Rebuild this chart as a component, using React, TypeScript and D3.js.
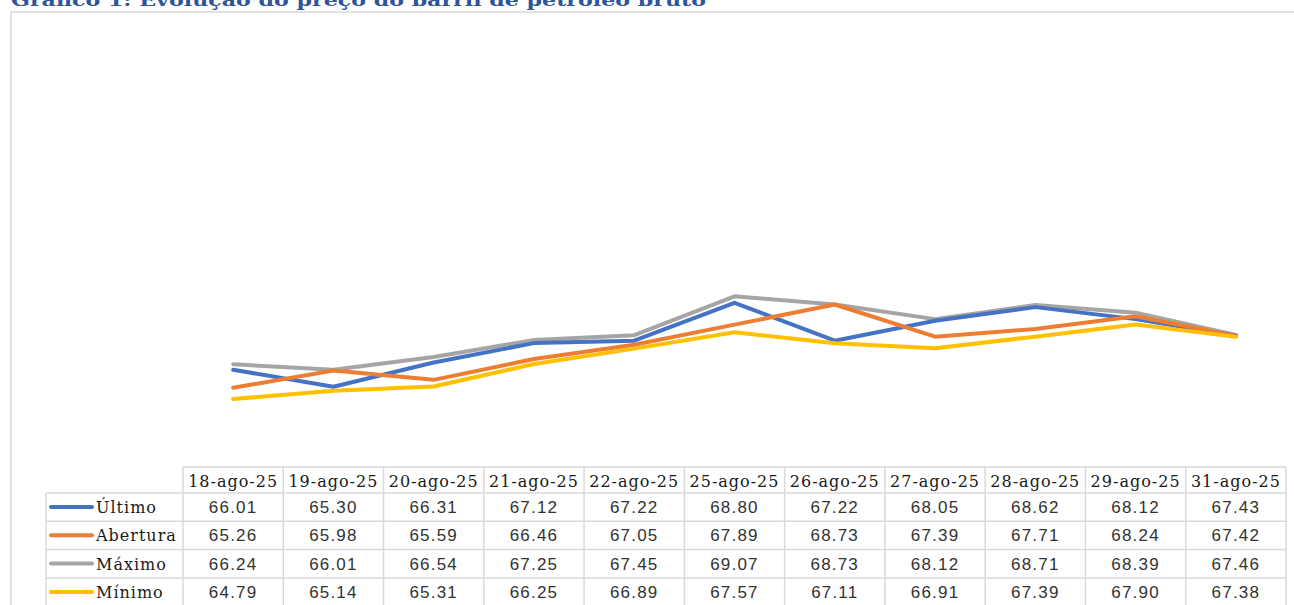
import React from "react";
import * as d3 from "d3";

const dates = ["18-ago-25","19-ago-25","20-ago-25","21-ago-25","22-ago-25","25-ago-25","26-ago-25","27-ago-25","28-ago-25","29-ago-25","31-ago-25"];
const ultimo = [66.01,65.30,66.31,67.12,67.22,68.80,67.22,68.05,68.62,68.12,67.43];
const abertura = [65.26,65.98,65.59,66.46,67.05,67.89,68.73,67.39,67.71,68.24,67.42];
const maximo = [66.24,66.01,66.54,67.25,67.45,69.07,68.73,68.12,68.71,68.39,67.46];
const minimo = [64.79,65.14,65.31,66.25,66.89,67.57,67.11,66.91,67.39,67.90,67.38];
const seriesNames = ["Último","Abertura","Máximo","Mínimo"];
const seriesColors = ["#4472C4","#ED7D31","#A5A5A5","#FFC000"];
const yDomain = [62, 80];
const title = "Gráfico 1: Evolução do preço do barril de petróleo bruto";

export default function App() {
  const W = 1294, H = 605;
  const tableLeft = 183, tableRight = 1286, legendLeft = 46;
  const headerTop = 467, headerH = 26, rowH = 28.3;
  const x = d3.scaleBand<string>().domain(dates).range([tableLeft, tableRight]);
  const y = d3.scaleLinear().domain(yDomain).range([466, 34]);
  const allSeries = [ultimo, abertura, maximo, minimo];
  const drawOrder = [2, 0, 1, 3];
  const line = d3.line<number>().x((_, i) => (x(dates[i]) as number) + x.bandwidth() / 2).y(d => y(d));
  const grid = "#D9D9D9";
  const rowsTop = headerTop + headerH;
  return (
    <svg width={W} height={H} style={{ position: "absolute", left: 0, top: 0, background: "#fff" }}>
      <text x={11} y={6} fontFamily="'DejaVu Serif', serif" fontWeight="bold" fontSize={17} fill="#2F5597" textLength={695} lengthAdjust="spacingAndGlyphs">{title}</text>
      <rect x={11} y={12} width={W} height={H} fill="none" stroke={grid} strokeWidth={1.5} />
      {drawOrder.map(si => (
        <path key={si} d={line(allSeries[si]) as string} fill="none" stroke={seriesColors[si]} strokeWidth={4} strokeLinejoin="round" strokeLinecap="round" />
      ))}
      <g stroke={grid} strokeWidth={1.5} fill="none">
        <line x1={tableLeft} x2={tableRight} y1={headerTop} y2={headerTop} />
        {d3.range(5).map(r => (
          <line key={r} x1={legendLeft} x2={tableRight} y1={rowsTop + r * rowH} y2={rowsTop + r * rowH} />
        ))}
        <line x1={legendLeft} x2={legendLeft} y1={rowsTop} y2={H} />
        {dates.map(dd => (
          <line key={dd} x1={x(dd)} x2={x(dd)} y1={headerTop} y2={H} />
        ))}
        <line x1={tableRight} x2={tableRight} y1={headerTop} y2={H} />
      </g>
      {dates.map(dd => (
        <text key={dd} x={(x(dd) as number) + x.bandwidth() / 2} y={headerTop + 19.5} textAnchor="middle" fontFamily="'DejaVu Serif', serif" fontSize={16} letterSpacing={1} fill="#1a1a1a">{dd}</text>
      ))}
      {seriesNames.map((name, si) => {
        const top = rowsTop + si * rowH;
        return (
          <g key={name}>
            <line x1={51} x2={92} y1={top + 14} y2={top + 14} stroke={seriesColors[si]} strokeWidth={4} strokeLinecap="round" />
            <text x={96} y={top + 20} fontFamily="'DejaVu Serif', serif" fontSize={16} letterSpacing={1} fill="#1a1a1a">{name}</text>
            {allSeries[si].map((v, i) => (
              <text key={i} x={(x(dates[i]) as number) + x.bandwidth() / 2} y={top + 20} textAnchor="middle" fontFamily="'Liberation Sans', Arial, sans-serif" fontSize={17} letterSpacing={1.2} fill="#333">{v.toFixed(2)}</text>
            ))}
          </g>
        );
      })}
    </svg>
  );
}
